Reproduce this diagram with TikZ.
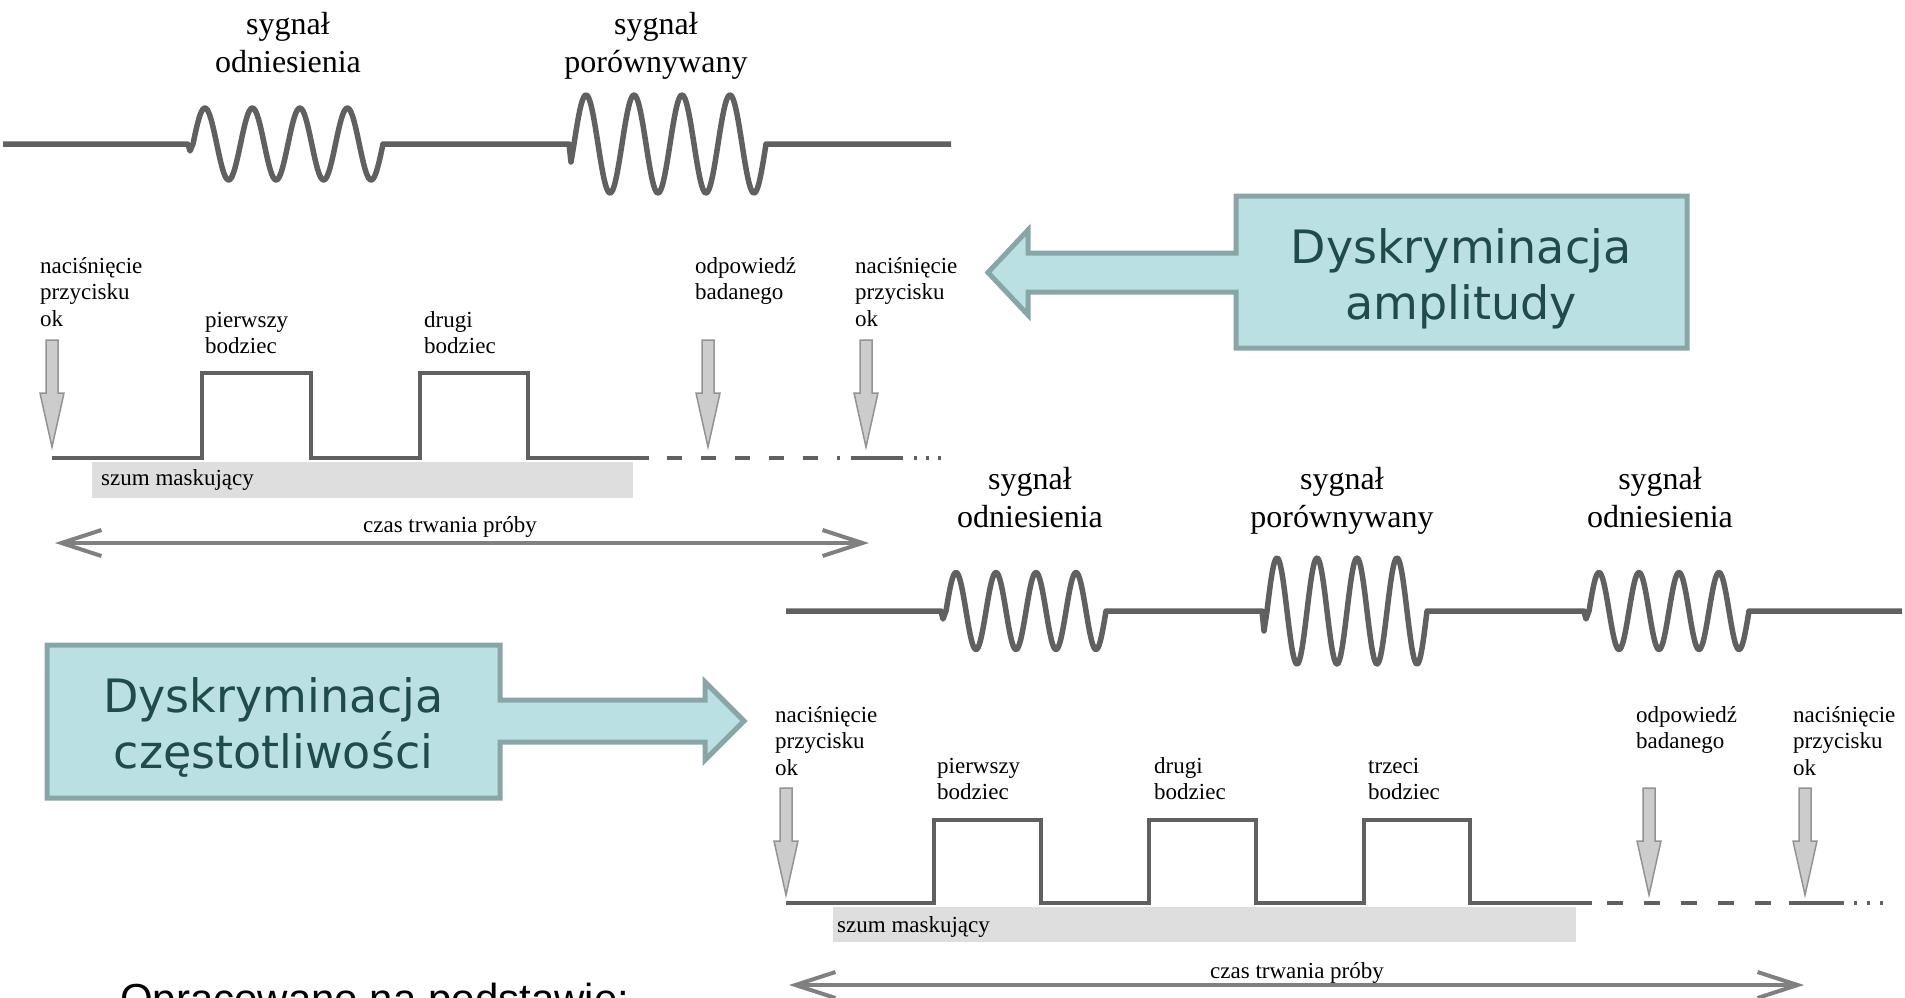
\documentclass[tikz,border=0pt]{standalone}
\usepackage{fontspec}
\setmainfont{Liberation Serif}
\newfontfamily\boxfont{DejaVu Sans}
\newfontfamily\notefont{Liberation Sans}
\usetikzlibrary{arrows.meta}

\definecolor{wavegray}{HTML}{606060}
\definecolor{boxfill}{HTML}{BBE0E3}
\definecolor{boxline}{HTML}{89A6A7}
\definecolor{boxtext}{HTML}{1F4B4B}

\tikzset{
  wave/.style={line width=5.5pt, wavegray, line join=round},
  pulse/.style={line width=4pt, wavegray},
  press/.style={fill=gray!40, draw=gray!85, line width=1.5pt},
  noise/.style={fill=black!13},
  span/.style={line width=4pt, gray, {Straight Barb[length=40pt,width=26pt]}-{Straight Barb[length=40pt,width=26pt]}},
  siglabel/.style={font=\fontsize{32}{38}\selectfont, align=center, anchor=base, inner sep=0pt},
  small/.style={font=\fontsize{23}{26.5}\selectfont, align=left, anchor=base west, inner sep=0pt},
  discbox/.style={fill=boxfill, draw=boxline, line width=5pt},
  disctext/.style={font=\boxfont\fontsize{46}{56}\selectfont, text=boxtext, align=center, anchor=base, inner sep=0pt}
}

% burst of four periods: start, period, amplitude, axis, hook
\newcommand{\burst}[5]{-- (#1-5,#4) -- (#1-3,#4+#5) -- plot[domain=#1:#1+4*#2, samples=160] (\x,{#4-#3*sin(360*((\x-#1)/#2))})}
% key press / answer arrow: x, top
\newcommand{\pressarrow}[2]{\draw[press] (#1-6,#2) -- (#1+6,#2) -- (#1+6,#2+53) -- (#1+12,#2+53) -- (#1,#2+107) -- (#1-12,#2+53) -- (#1-6,#2+53) -- cycle;}

\begin{document}
\begin{tikzpicture}[x=1pt,y=-1pt]
\useasboundingbox (0,0) rectangle (1905,997);

% amplitude discrimination (labels sit on their last line)
\node[siglabel] (refA) at (288,72) {sygnał\\odniesienia};
\node[siglabel] (cmpA) at (656,72) {sygnał\\porównywany};
\draw[wave] (3,144) \burst{193}{47.5}{36}{144}{7} \burst{574}{48}{49}{144}{18} -- (951,144);

\node[small] (pressA) at (40,326) {naciśnięcie\\przycisku\\ok};
\node[small] (firstA) at (205,353.5) {pierwszy\\bodziec};
\node[small] (secondA) at (424,353.5) {drugi\\bodziec};
\node[small] (answerA) at (695,299.5) {odpowiedź\\badanego};
\node[small] (nextA) at (855,326) {naciśnięcie\\przycisku\\ok};

\fill[noise] (92,462) rectangle (633,498);
\node[small] (noiseA) at (101,485) {szum maskujący};
\draw[pulse] (52,458) -- (202,458) -- (202,373) -- (311,373) -- (311,458) -- (420,458) -- (420,373) -- (528,373) -- (528,458) -- (649,458);
\draw[pulse, dash pattern=on 15pt off 19pt] (667,458) -- (840,458);
\draw[pulse] (851,458) -- (903,458);
\draw[pulse, dash pattern=on 3pt off 9pt] (914,458) -- (944,458);
\pressarrow{52}{340}
\pressarrow{708}{340}
\pressarrow{866}{340}
\draw[span] (55,543) -- (869,543);
\node[small, anchor=base] (timeA) at (450,532) {czas trwania próby};

\draw[discbox] (1236,196) -- (1687,196) -- (1687,348) -- (1236,348) -- (1236,292) -- (1028,292) -- (1028,315) -- (988,272.5) -- (1028,230) -- (1028,253) -- (1236,253) -- cycle;
\node[disctext] (amp) at (1461,319) {Dyskryminacja\\amplitudy};

% frequency discrimination
\node[siglabel] (refB) at (1030,527) {sygnał\\odniesienia};
\node[siglabel] (cmpB) at (1342,527) {sygnał\\porównywany};
\node[siglabel] (refC) at (1660,527) {sygnał\\odniesienia};
\draw[wave] (786,611) \burst{946}{40}{38.5}{611}{8} \burst{1267}{40}{53}{611}{20} \burst{1589}{40}{38.5}{611}{8} -- (1902,611);

\node[small] (pressB) at (775,775) {naciśnięcie\\przycisku\\ok};
\node[small] (firstB) at (937,799.5) {pierwszy\\bodziec};
\node[small] (secondB) at (1154,799.5) {drugi\\bodziec};
\node[small] (thirdB) at (1368,799.5) {trzeci\\bodziec};
\node[small] (answerB) at (1636,748.5) {odpowiedź\\badanego};
\node[small] (nextB) at (1793,775) {naciśnięcie\\przycisku\\ok};

\fill[noise] (833,907) rectangle (1576,942);
\node[small] (noiseB) at (837,932) {szum maskujący};
\draw[pulse] (786,903) -- (934,903) -- (934,820) -- (1041,820) -- (1041,903) -- (1149,903) -- (1149,820) -- (1256,820) -- (1256,903) -- (1364,903) -- (1364,820) -- (1470,820) -- (1470,903) -- (1592,903);
\draw[pulse, dash pattern=on 16pt off 21pt] (1607,903) -- (1775,903);
\draw[pulse] (1789,903) -- (1844,903);
\draw[pulse, dash pattern=on 3pt off 10pt] (1854,903) -- (1886,903);
\pressarrow{786}{788}
\pressarrow{1649}{788}
\pressarrow{1805}{788}
\draw[span] (789,985) -- (1804,985);
\node[small, anchor=base] (timeB) at (1297,978) {czas trwania próby};

\draw[discbox] (47,645) -- (500,645) -- (500,700) -- (705,700) -- (705,682) -- (744,721) -- (705,760) -- (705,742) -- (500,742) -- (500,798) -- (47,798) -- cycle;
\node[disctext] (freq) at (273.5,768) {Dyskryminacja\\częstotliwości};

\node[font=\notefont\fontsize{42}{50}\selectfont, anchor=base west, inner sep=0pt] (source) at (120,1013) {Opracowano na podstawie:};
\end{tikzpicture}
\end{document}
